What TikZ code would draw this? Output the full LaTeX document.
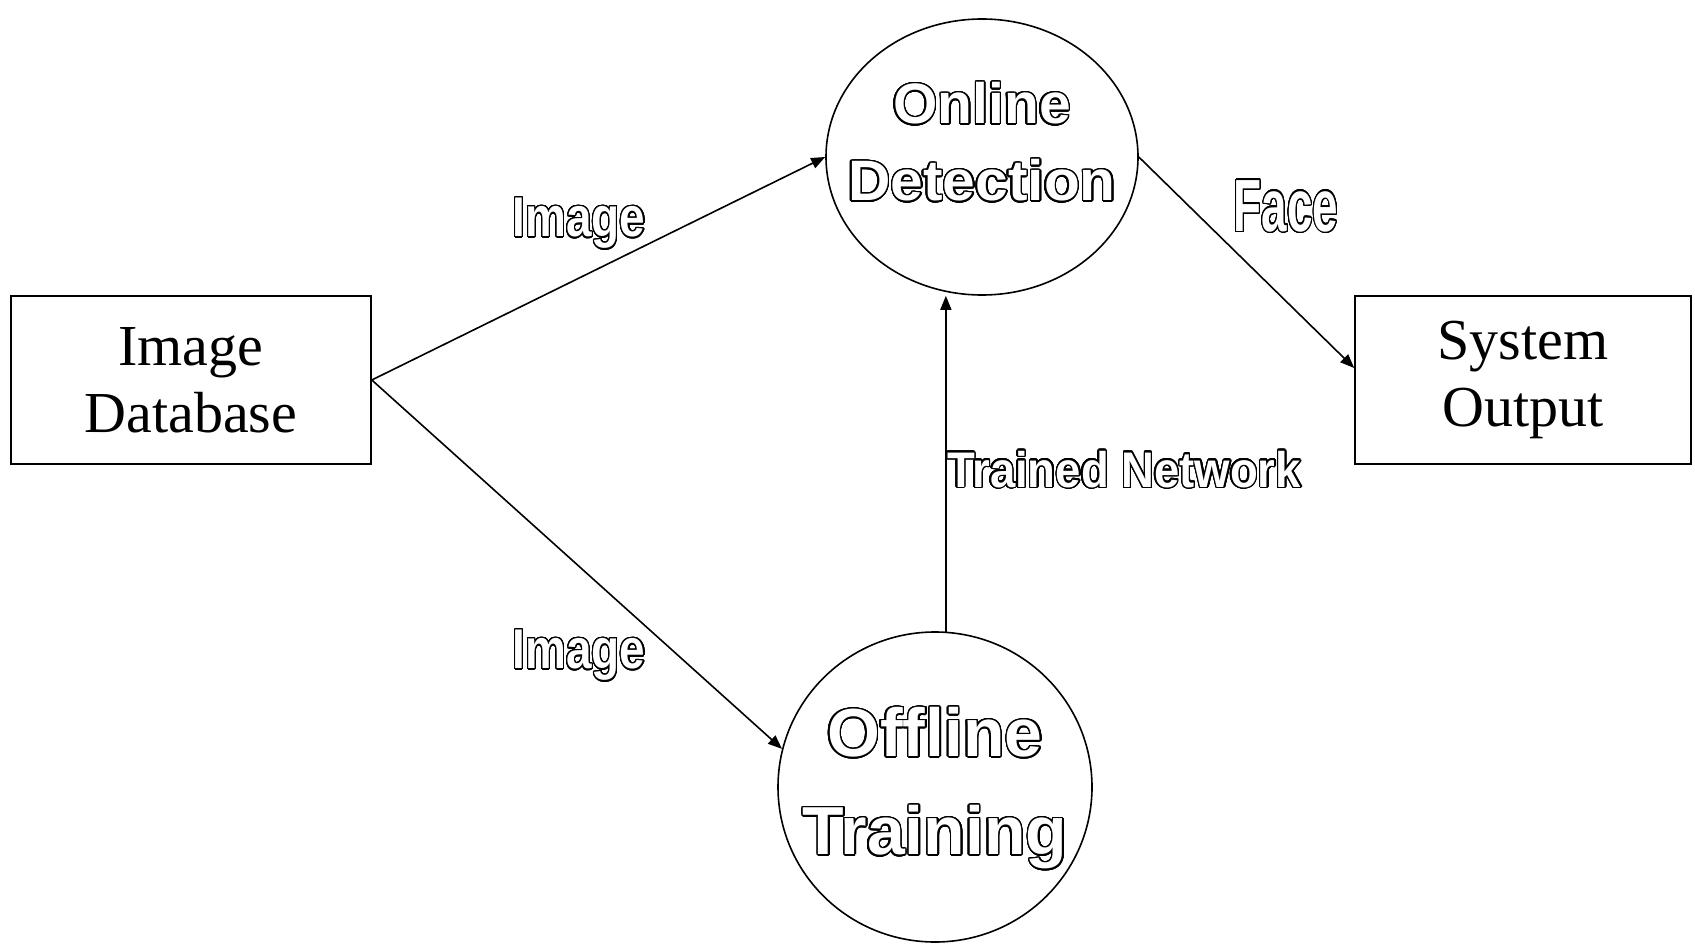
\documentclass[tikz,border=0pt]{standalone}
\usepackage{fontspec}
\setmainfont{Liberation Serif}
\newfontfamily\lblfont{Liberation Sans}
\usepackage[copies]{contour}
\contournumber{32}
\contourlength{1.5pt}
\usetikzlibrary{arrows.meta,shapes.geometric,calc}

% hollow lettering: white glyphs with a black rim
\newcommand{\hollow}[1]{\contour{black}{\textcolor{white}{#1}}}
% hollow bold sans label: size, horizontal squeeze, text
\newcommand{\olbl}[3]{{\lblfont\bfseries\fontsize{#1}{#1}\selectfont\scalebox{#2}[1]{\hollow{#3}}}}

\tikzset{
  stage/.style={draw, line width=1.6pt, minimum height=168pt, inner sep=0pt,
                align=center, font=\fontsize{58}{67}\selectfont},
  proc/.style={draw, ellipse, line width=1.6pt, inner sep=0pt},
  flow/.style={line width=1.6pt, -{Triangle[length=14pt,width=11pt]}},
  txt/.style={inner sep=0pt, anchor=center}
}

\begin{document}
\begin{tikzpicture}[x=1pt,y=-1pt]
\useasboundingbox (0,0) rectangle (1695,944);

% sources and sinks
\node[stage, minimum width=360pt] (db) at (191,380) {Image\\Database};
\node[stage, minimum width=336pt] (out) at (1523,380) {System\\Output};

% processes
\node[proc, minimum width=312pt, minimum height=276pt] (on) at (982,157) {};
\node[proc, minimum width=314pt, minimum height=310pt] (off) at (935,787) {};

\node[txt] (onA) at (982,104) {\olbl{57}{1}{Online}};
\node[txt] (onB) at (982,181) {\olbl{57}{1.03}{Detection}};
\node[txt] (offA) at (935,733) {\olbl{68}{1}{Offline}};
\node[txt] (offB) at (935,838) {\olbl{68}{1}{Training}};

% data flows
\draw[flow] (db.east) -- (on.west);
\draw[flow] (db.east) -- (off.166);
\draw[flow] (off.86) -- (off.86 |- on.south);
\draw[flow] (on.east) -- ($(out.west)+(0,-12)$);

% flow labels
\node[txt] (l1) at (579,224) {\olbl{56}{0.82}{Image}};
\node[txt] (l2) at (579,656) {\olbl{56}{0.82}{Image}};
\node[txt] (l3) at (1286,207) {\olbl{74}{0.62}{Face}};
\node[txt] (l4) at (1124,470) {\olbl{50}{0.91}{Trained Network}};
\end{tikzpicture}
\end{document}
